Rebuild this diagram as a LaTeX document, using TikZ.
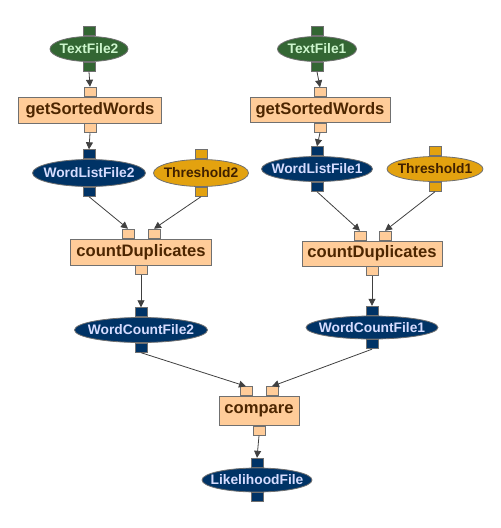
\documentclass[tikz,border=0pt]{standalone}
\usepackage{fontspec}
\setmainfont{Liberation Sans}
\usetikzlibrary{shapes.geometric,arrows.meta}

\definecolor{taskfill}{HTML}{FFCC99}
\definecolor{tasktext}{HTML}{4D2600}
\definecolor{edgegray}{HTML}{707070}
\definecolor{flowgray}{HTML}{404040}
\definecolor{srcgreen}{HTML}{336633}
\definecolor{srctext}{HTML}{CCF5CC}
\definecolor{fileblue}{HTML}{003366}
\definecolor{filetext}{HTML}{D6DCFF}
\definecolor{parmorange}{HTML}{E3A20F}
\definecolor{parmtext}{HTML}{402000}

\tikzset{
  task/.style={rectangle, draw=edgegray, line width=0.9pt, fill=taskfill, text=tasktext,
    font=\bfseries\fontsize{16.6}{18}\selectfont, inner sep=0pt, minimum height=26pt},
  % the label gets no width, so minimum width alone sizes the ellipse
  data/.style={ellipse, draw=edgegray, line width=0.8pt, inner sep=0pt,
    font=\bfseries\fontsize{13.8}{15}\selectfont, minimum height=25pt,
    execute at begin node={\hbox to 0pt\bgroup\hss},
    execute at end node={\hss\egroup}},
  srcfile/.style={data, fill=srcgreen, text=srctext},
  wordfile/.style={data, fill=fileblue, text=filetext},
  parmfile/.style={data, fill=parmorange, text=parmtext},
  port/.style={rectangle, draw=edgegray, line width=0.8pt, inner sep=0pt,
    minimum width=12pt, minimum height=9pt},
  tport/.style={port, fill=taskfill},
  flow/.style={draw=flowgray, line width=0.8pt, -{Triangle[length=7pt,width=7pt]}}
}

\begin{document}
\begin{tikzpicture}[x=1pt, y=-1pt]
\useasboundingbox (0,0) rectangle (501,528);

% left branch: TextFile2 down to WordCountFile2
\node[srcfile, minimum width=78pt] (tf2) at (89,49) {TextFile2};
\node[port, fill=srcgreen, anchor=south] (tf2-in) at (tf2.north) {};
\node[port, fill=srcgreen, anchor=north] (tf2-out) at (tf2.south) {};

\node[task, minimum width=143pt] (gsw2) at (90,110) {getSortedWords};
\node[tport, anchor=south] (gsw2-in) at (gsw2.north) {};
\node[tport, anchor=north] (gsw2-out) at (gsw2.south) {};

\node[wordfile, minimum width=113pt, minimum height=27pt] (wl2) at (89,173) {WordListFile2};
\node[port, fill=fileblue, anchor=south] (wl2-in) at (wl2.north) {};
\node[port, fill=fileblue, anchor=north] (wl2-out) at (wl2.south) {};

\node[parmfile, minimum width=95pt, minimum height=27pt] (th2) at (201,173) {Threshold2};
\node[port, fill=parmorange, anchor=south] (th2-in) at (th2.north) {};
\node[port, fill=parmorange, anchor=north] (th2-out) at (th2.south) {};

\node[task, minimum width=141pt] (cd2) at (141,252) {countDuplicates};
\node[tport, anchor=south] (cd2-ina) at ([xshift=-13pt]cd2.north) {};
\node[tport, anchor=south] (cd2-inb) at ([xshift=13pt]cd2.north) {};
\node[tport, anchor=north] (cd2-out) at (cd2.south) {};

\node[wordfile, minimum width=133pt] (wc2) at (141,330) {WordCountFile2};
\node[port, fill=fileblue, anchor=south] (wc2-in) at (wc2.north) {};
\node[port, fill=fileblue, anchor=north] (wc2-out) at (wc2.south) {};

% right branch: TextFile1 down to WordCountFile1
\node[srcfile, minimum width=79pt] (tf1) at (317,49) {TextFile1};
\node[port, fill=srcgreen, anchor=south] (tf1-in) at (tf1.north) {};
\node[port, fill=srcgreen, anchor=north] (tf1-out) at (tf1.south) {};

\node[task, minimum width=140pt, minimum height=25pt] (gsw1) at (320,110) {getSortedWords};
\node[tport, anchor=south] (gsw1-in) at (gsw1.north) {};
\node[tport, anchor=north] (gsw1-out) at (gsw1.south) {};

\node[wordfile, minimum width=111pt] (wl1) at (317,169) {WordListFile1};
\node[port, fill=fileblue, anchor=south] (wl1-in) at (wl1.north) {};
\node[port, fill=fileblue, anchor=north] (wl1-out) at (wl1.south) {};

\node[parmfile, minimum width=96pt] (th1) at (435,169) {Threshold1};
\node[port, fill=parmorange, anchor=south] (th1-in) at (th1.north) {};
\node[port, fill=parmorange, anchor=north] (th1-out) at (th1.south) {};

\node[task, minimum width=140pt, minimum height=25pt] (cd1) at (372,253.5) {countDuplicates};
\node[tport, anchor=south] (cd1-ina) at ([xshift=-12pt]cd1.north) {};
\node[tport, anchor=south] (cd1-inb) at ([xshift=13pt]cd1.north) {};
\node[tport, anchor=north] (cd1-out) at (cd1.south) {};

\node[wordfile, minimum width=132pt, minimum height=23pt] (wc1) at (372,327.5) {WordCountFile1};
\node[port, fill=fileblue, anchor=south] (wc1-in) at (wc1.north) {};
\node[port, fill=fileblue, anchor=north] (wc1-out) at (wc1.south) {};

% both branches meet in compare
\node[task, minimum width=80pt, minimum height=29pt] (cmp) at (259,411) {compare};
\node[tport, anchor=south] (cmp-ina) at ([xshift=-13pt]cmp.north) {};
\node[tport, anchor=south] (cmp-inb) at ([xshift=13pt]cmp.north) {};
\node[tport, anchor=north] (cmp-out) at (cmp.south) {};

\node[wordfile, minimum width=110pt, minimum height=24pt] (lh) at (257,480) {LikelihoodFile};
\node[port, fill=fileblue, anchor=south] (lh-in) at (lh.north) {};
\node[port, fill=fileblue, anchor=north] (lh-out) at (lh.south) {};

\draw[flow] (tf2-out.south) -- (gsw2-in.north);
\draw[flow] (gsw2-out.south) -- (wl2-in.north);
\draw[flow] (wl2-out.south) -- (cd2-ina.north);
\draw[flow] (th2-out.south) -- (cd2-inb.north);
\draw[flow] (cd2-out.south) -- (wc2-in.north);

\draw[flow] (tf1-out.south) -- (gsw1-in.north);
\draw[flow] (gsw1-out.south) -- (wl1-in.north);
\draw[flow] (wl1-out.south) -- (cd1-ina.north);
\draw[flow] (th1-out.south) -- (cd1-inb.north);
\draw[flow] (cd1-out.south) -- (wc1-in.north);

\draw[flow] (wc2-out.south) -- (cmp-ina.north);
\draw[flow] (wc1-out.south) -- (cmp-inb.north);
\draw[flow] (cmp-out.south) -- (lh-in.north);
\end{tikzpicture}
\end{document}
